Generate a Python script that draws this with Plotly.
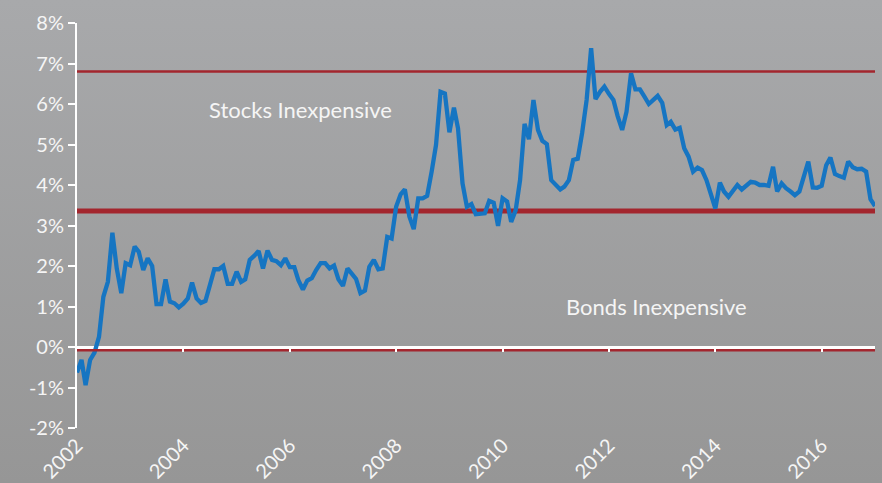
import base64
import pandas as pd
import plotly.graph_objects as go

# ---- data (monthly, Jan 2002 .. Jan 2017), values in percent ----
start_month = "2002-01-01"
spread_values = [
    -0.63, -0.32, -0.94, -0.32, -0.14, 0.25, 1.24, 1.61, 2.82, 1.94, 1.33, 2.07,
    2.02, 2.48, 2.35, 1.90, 2.19, 2.00, 1.06, 1.06, 1.67, 1.12, 1.08, 0.98,
    1.07, 1.20, 1.59, 1.20, 1.09, 1.14, 1.52, 1.92, 1.92, 2.00, 1.56, 1.56,
    1.86, 1.61, 1.67, 2.15, 2.25, 2.37, 1.94, 2.38, 2.15, 2.12, 2.02, 2.19,
    1.97, 1.97, 1.65, 1.42, 1.64, 1.70, 1.90, 2.07, 2.07, 1.94, 2.01, 1.67,
    1.51, 1.94, 1.82, 1.68, 1.33, 1.39, 1.98, 2.15, 1.92, 1.94, 2.72, 2.68,
    3.46, 3.77, 3.89, 3.22, 2.91, 3.67, 3.67, 3.73, 4.33, 4.99, 6.30, 6.26,
    5.30, 5.91, 5.40, 4.04, 3.46, 3.53, 3.28, 3.28, 3.30, 3.61, 3.56, 2.99,
    3.67, 3.59, 3.09, 3.38, 4.12, 5.51, 5.13, 6.10, 5.36, 5.09, 5.01, 4.12,
    4.00, 3.89, 3.96, 4.12, 4.62, 4.65, 5.28, 6.10, 7.38, 6.12, 6.30, 6.43,
    6.25, 6.10, 5.70, 5.36, 5.81, 6.76, 6.36, 6.36, 6.18, 6.00, 6.10, 6.20,
    6.03, 5.48, 5.56, 5.37, 5.41, 4.91, 4.70, 4.33, 4.43, 4.37, 4.12, 3.75,
    3.42, 4.06, 3.84, 3.71, 3.86, 4.00, 3.89, 4.00, 4.08, 4.06, 4.00, 4.00,
    3.98, 4.45, 3.84, 4.04, 3.92, 3.84, 3.75, 3.84, 4.20, 4.58, 3.94, 3.93,
    3.98, 4.49, 4.68, 4.27, 4.22, 4.18, 4.58, 4.44, 4.39, 4.40, 4.33, 3.65,
    3.48,
]
mean_level = 3.36
upper_band = 6.80
lower_band = -0.08

y_tick_values = [-2, -1, 0, 1, 2, 3, 4, 5, 6, 7, 8]
y_tick_labels = ["-2%", "-1%", "0%", "1%", "2%", "3%", "4%", "5%", "6%", "7%", "8%"]
x_tick_values = ["2002-01-01", "2004-01-01", "2006-01-01", "2008-01-01",
                 "2010-01-01", "2012-01-01", "2014-01-01", "2016-01-01"]
x_tick_labels = ["2002", "2004", "2006", "2008", "2010", "2012", "2014", "2016"]

label_stocks = "Stocks Inexpensive"
label_bonds = "Bonds Inexpensive"

dates = pd.date_range(start_month, periods=len(spread_values), freq="MS")

# ---- styling ----
W, H = 882, 483
ML, MR, MT, MB = 77, 7, 23, 55
PW, PH = W - ML - MR, H - MT - MB
FONT = "Lato, 'Open Sans', sans-serif"
TXT = "#f5f5f5"
RED = "#a3262e"
BLUE = "#1675c2"

svg = (
    '<svg xmlns="http://www.w3.org/2000/svg" width="100" height="100" preserveAspectRatio="none">'
    '<defs><linearGradient id="g" x1="0" y1="0" x2="0" y2="1">'
    '<stop offset="0" stop-color="#a8a9ab"/><stop offset="1" stop-color="#969696"/>'
    '</linearGradient></defs><rect width="100" height="100" fill="url(#g)"/></svg>'
)
bg_uri = "data:image/svg+xml;base64," + base64.b64encode(svg.encode()).decode()

fig = go.Figure()

for level, width, xa in [(upper_band, 2.5, "x"), (mean_level, 5, "x"), (lower_band, 2.5, "x2")]:
    fig.add_trace(go.Scatter(
        x=[dates[0], dates[-1]], y=[level, level], mode="lines", xaxis=xa,
        line=dict(color=RED, width=width), hoverinfo="skip", showlegend=False,
    ))

fig.add_trace(go.Scatter(
    x=dates, y=spread_values, mode="lines",
    line=dict(color=BLUE, width=4.3, shape="linear"), showlegend=False,
))

x_range = ["2002-01-01", "2017-01-01"]

fig.update_layout(
    width=W, height=H,
    margin=dict(l=ML, r=MR, t=MT, b=MB, pad=0, autoexpand=False),
    paper_bgcolor="#9f9fa0",
    plot_bgcolor="rgba(0,0,0,0)",
    font=dict(family=FONT, color=TXT, size=20),
    showlegend=False,
    xaxis=dict(
        type="date", range=x_range, automargin=False,
        tickmode="array", tickvals=x_tick_values, ticktext=x_tick_labels,
        tickangle=-45, ticks="", showline=False, showgrid=False, zeroline=False,
        ticklabelstandoff=1,
        tickfont=dict(family=FONT, size=20, color=TXT),
    ),
    xaxis2=dict(
        type="date", range=x_range, overlaying="x", anchor="free", position=0.2,
        side="bottom", automargin=False,
        tickmode="array", tickvals=x_tick_values[1:],
        ticks="outside", ticklen=4, tickwidth=1.5, tickcolor="#ffffff",
        showticklabels=False, showline=False, showgrid=False, zeroline=False,
    ),
    yaxis=dict(
        range=[-2, 8], automargin=False,
        tickmode="array", tickvals=y_tick_values, ticktext=y_tick_labels,
        ticks="outside", ticklen=7, tickwidth=2, tickcolor="#ffffff",
        showline=True, linecolor="#ffffff", linewidth=2,
        showgrid=False, zeroline=True, zerolinecolor="#ffffff", zerolinewidth=2.5,
        tickfont=dict(family=FONT, size=20, color=TXT),
    ),
    images=[dict(
        source=bg_uri, xref="paper", yref="paper",
        x=-ML / PW, y=1 + MT / PH, sizex=W / PW, sizey=H / PH,
        sizing="stretch", layer="below", xanchor="left", yanchor="top",
    )],
    annotations=[
        dict(text=label_stocks, xref="paper", yref="paper",
             x=(300.5 - ML) / PW, y=(H - MB - 110) / PH, showarrow=False,
             xanchor="center", yanchor="middle",
             font=dict(family=FONT, size=22, color=TXT)),
        dict(text=label_bonds, xref="paper", yref="paper",
             x=(656 - ML) / PW, y=(H - MB - 306) / PH, showarrow=False,
             xanchor="center", yanchor="middle",
             font=dict(family=FONT, size=22, color=TXT)),
    ],
)

fig.write_html(
    "out.html",
    config={"displayModeBar": False},
    post_script="document.body.style.margin='0';document.body.style.padding='0';",
)
